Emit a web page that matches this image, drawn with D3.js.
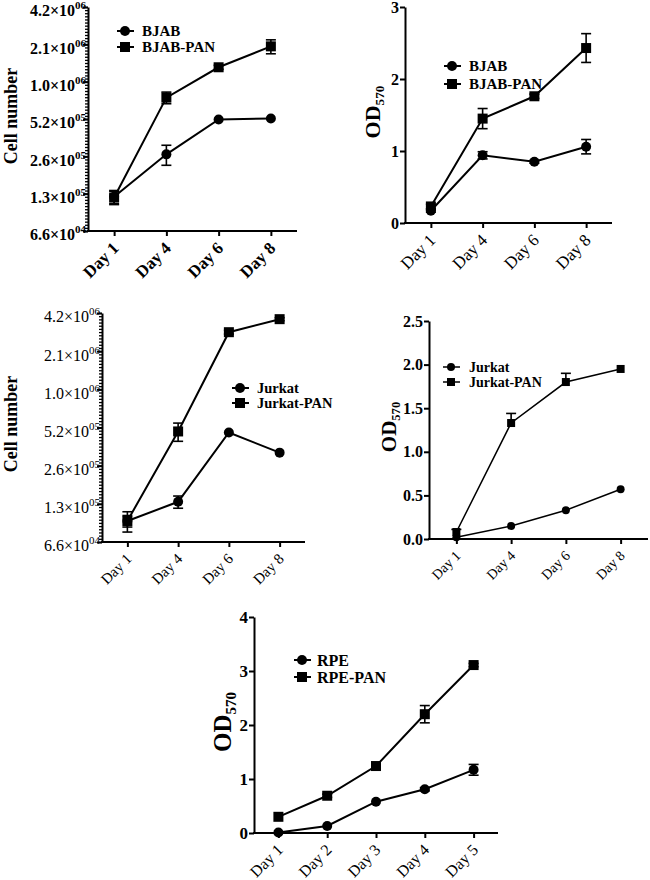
<!DOCTYPE html>
<html>
<head>
<meta charset="utf-8">
<script src="https://cdn.jsdelivr.net/npm/d3@7"></script>
<style>
  body { margin: 0; background: #fff; }
  svg { display: block; }
  text { font-family: 'Liberation Serif', 'Times New Roman', serif; fill: #000; }
</style>
</head>
<body>
<div id="chart"></div>
<script>
// categories
const days4 = ['Day 1', 'Day 4', 'Day 6', 'Day 8'];
const days5 = ['Day 1', 'Day 2', 'Day 3', 'Day 4', 'Day 5'];

// log2 axis ticks (2^16 .. 2^22) and their labels
const cellTicks = [65536, 131072, 262144, 524288, 1048576, 2097152, 4194304];
const cellMant  = ['6.6', '1.3', '2.6', '5.2', '1.0', '2.1', '4.2'];
const cellExp   = ['04', '05', '05', '05', '06', '06', '06'];
const odTicks3  = [0, 1, 2, 3];
const odTicks25 = [0, 0.5, 1, 1.5, 2, 2.5];
const odTicks4  = [0, 1, 2, 3, 4];

// BJAB
const bjabCell       = [124000, 272000, 520000, 530000];
const bjabCellErr    = [15000, 50000, 0, 0];
const bjabPanCell    = [122000, 780000, 1370000, 2020000];
const bjabPanCellErr = [15000, 84000, 50000, 260000];
const bjabOD         = [0.17, 0.94, 0.85, 1.06];
const bjabODErr      = [0.02, 0.05, 0.02, 0.10];
const bjabPanOD      = [0.23, 1.45, 1.76, 2.43];
const bjabPanODErr   = [0.03, 0.14, 0.03, 0.20];

// Jurkat
const jurkatCell       = [96000, 136000, 479000, 332000];
const jurkatCellErr    = [10000, 15000, 0, 0];
const jurkatPanCell    = [96000, 488000, 2960000, 3750000];
const jurkatPanCellErr = [17500, 80000, 100000, 100000];
const jurkatOD         = [0.02, 0.15, 0.33, 0.57];
const jurkatODErr      = [0, 0, 0, 0];
const jurkatPanOD      = [0.08, 1.33, 1.80, 1.95];
const jurkatPanODErr   = [0.03, 0.11, 0.10, 0];

// RPE
const rpeOD       = [0.01, 0.13, 0.58, 0.81, 1.17];
const rpeODErr    = [0, 0, 0, 0.03, 0.10];
const rpePanOD    = [0.30, 0.69, 1.24, 2.20, 3.11];
const rpePanODErr = [0, 0.03, 0.06, 0.16, 0.03];

const svg = d3.select('#chart').append('svg')
  .attr('width', 650).attr('height', 880);

function mkPanel(p) {
  const g = svg.append('g');
  const x = d3.scalePoint().domain(p.cats).range(p.xr).padding(0.5);
  const y = p.log
    ? d3.scaleLog().base(2).domain([cellTicks[0], cellTicks[cellTicks.length - 1]]).range(p.yr)
    : d3.scaleLinear().domain([p.ticks[0], p.ticks[p.ticks.length - 1]]).range(p.yr);
  const lw = p.lw || 2;

  // y axis
  const ya = g.append('g').attr('transform', `translate(${p.xr[0]},0)`);
  if (p.log) {
    // minor ticks, 12 per doubling
    const minor = [];
    const [l0, l1] = [Math.log2(cellTicks[0]), Math.log2(cellTicks[cellTicks.length - 1])];
    for (let k = l0 * 12; k <= l1 * 12; k++) minor.push(Math.pow(2, k / 12));
    ya.append('g').call(d3.axisLeft(y).tickValues(minor).tickSize(3).tickSizeOuter(0).tickFormat(''))
      .call(a => a.select('.domain').remove())
      .selectAll('line').attr('stroke-width', 1.3);
    ya.append('g').call(d3.axisLeft(y).tickValues(cellTicks).tickSize(5).tickSizeOuter(0).tickPadding(-3)
        .tickFormat((d, i) => cellMant[i] + '\u00d710'))
      .call(a => a.selectAll('text').each(function(d, i) {
        const t = d3.select(this)
          .attr('dy', '0.56em')
          .style('font-size', '16px')
          .style('font-weight', p.tickBold ? 'bold' : 'normal');
        t.append('tspan').attr('dy', '-0.64em').style('font-size', '11px').text(cellExp[i]);
      }));
  } else {
    ya.call(d3.axisLeft(y).tickValues(p.ticks).tickSize(5).tickSizeOuter(0).tickPadding(1)
        .tickFormat(d3.format(p.fmt)))
      .selectAll('text')
      .style('font-size', (p.tickFs || 16) + 'px')
      .style('font-weight', p.tickBold ? 'bold' : 'normal');
  }
  ya.selectAll('.domain, line').attr('stroke', '#000');
  ya.select('.domain').attr('stroke-width', 2);
  ya.selectAll('.tick line').filter(function() { return +d3.select(this).attr('x2') === -5; }).attr('stroke-width', 2);

  // x axis
  const xa = g.append('g').attr('transform', `translate(0,${p.yr[0]})`)
    .call(d3.axisBottom(x).tickSize(5).tickSizeOuter(0));
  xa.select('.domain').attr('d', `M${p.xr[0] - 1},0H${p.xr[1]}`).attr('stroke', '#000').attr('stroke-width', 2);
  xa.selectAll('.tick line').attr('stroke', '#000').attr('stroke-width', 2);
  xa.selectAll('.tick text')
    .attr('x', 0).attr('y', 0).attr('dy', '0.35em')
    .attr('text-anchor', 'end')
    .attr('transform', 'translate(1,14) rotate(-45)')
    .style('font-size', (p.xFs || 16) + 'px')
    .style('font-weight', p.xBold ? 'bold' : 'normal');

  // series
  const line = d3.line().x((d, i) => x(p.cats[i])).y(d => y(d));
  p.series.forEach(s => {
    g.append('path').datum(s.vals)
      .attr('fill', 'none').attr('stroke', '#000').attr('stroke-width', lw)
      .attr('d', line);
    const cw = 5;
    s.vals.forEach((v, i) => {
      const e = s.err[i];
      if (!e) return;
      const cx = x(p.cats[i]);
      const yt = y(v + e), yb = p.upOnly ? y(v) : y(v - e);
      const eg = g.append('g').attr('stroke', '#000').attr('stroke-width', 1.6);
      eg.append('line').attr('x1', cx).attr('x2', cx).attr('y1', yt).attr('y2', yb);
      eg.append('line').attr('x1', cx - cw).attr('x2', cx + cw).attr('y1', yt).attr('y2', yt);
      if (!p.upOnly) eg.append('line').attr('x1', cx - cw).attr('x2', cx + cw).attr('y1', yb).attr('y2', yb);
    });
  });
  p.series.forEach(s => {
    s.vals.forEach((v, i) => {
      const cx = x(p.cats[i]), cy = y(v);
      if (s.shape === 'circle') {
        g.append('circle').attr('cx', cx).attr('cy', cy).attr('r', p.ms / 2);
      } else {
        g.append('rect').attr('x', cx - p.ms / 2).attr('y', cy - p.ms / 2)
          .attr('width', p.ms).attr('height', p.ms);
      }
    });
  });

  // legend
  p.series.forEach((s, i) => {
    const ly = p.leg[1] + i * p.leg[3];
    const lx = p.leg[0];
    g.append('line').attr('x1', lx - 8).attr('x2', lx + 9).attr('y1', ly).attr('y2', ly)
      .attr('stroke', '#000').attr('stroke-width', lw);
    if (s.shape === 'circle') g.append('circle').attr('cx', lx).attr('cy', ly).attr('r', p.ms / 2);
    else g.append('rect').attr('x', lx - p.ms / 2).attr('y', ly - p.ms / 2).attr('width', p.ms).attr('height', p.ms);
    g.append('text').attr('x', p.leg[2]).attr('y', ly).attr('dy', '0.35em')
      .style('font-size', p.legFs + 'px').style('font-weight', 'bold')
      .text(s.name);
  });

  // y title
  const tt = g.append('text')
    .attr('transform', `translate(${p.title[0]},${p.title[1]}) rotate(-90)`)
    .attr('text-anchor', 'middle')
    .style('font-weight', 'bold')
    .style('font-size', p.title[2] + 'px');
  if (p.od) {
    tt.append('tspan').text('OD');
    tt.append('tspan').attr('dy', '0.3em').style('font-size', (p.title[2] * 0.6) + 'px').text('570');
  } else {
    tt.text('Cell number');
  }
}

mkPanel({
  cats: days4, log: true, xr: [88, 297], yr: [231, 7], tickBold: true, xBold: true, xFs: 17,
  ms: 10, lw: 2,
  series: [
    { name: 'BJAB', shape: 'circle', vals: bjabCell, err: bjabCellErr },
    { name: 'BJAB-PAN', shape: 'rect', vals: bjabPanCell, err: bjabPanCellErr }
  ],
  leg: [125, 31, 142, 16], legFs: 15,
  title: [17, 116, 18]
});

mkPanel({
  cats: days4, ticks: odTicks3, fmt: 'd', xr: [405, 612], yr: [223, 7], tickBold: true, xFs: 17,
  ms: 10, lw: 2,
  series: [
    { name: 'BJAB', shape: 'circle', vals: bjabOD, err: bjabODErr },
    { name: 'BJAB-PAN', shape: 'rect', vals: bjabPanOD, err: bjabPanODErr }
  ],
  leg: [452, 66, 469, 18], legFs: 15, od: true,
  title: [380, 112, 22]
});

mkPanel({
  cats: days4, log: true, xr: [102, 305], yr: [542, 313], tickBold: false, xFs: 15,
  ms: 10, lw: 2,
  series: [
    { name: 'Jurkat', shape: 'circle', vals: jurkatCell, err: jurkatCellErr },
    { name: 'Jurkat-PAN', shape: 'rect', vals: jurkatPanCell, err: jurkatPanCellErr }
  ],
  leg: [240, 388, 257, 15], legFs: 14.5,
  title: [17, 424, 18]
});

mkPanel({
  cats: days4, ticks: odTicks25, fmt: '.1f', xr: [429, 648], yr: [539, 321], tickBold: true, tickFs: 16,
  ms: 8, lw: 1.5, upOnly: true, xFs: 14,
  series: [
    { name: 'Jurkat', shape: 'circle', vals: jurkatOD, err: jurkatODErr },
    { name: 'Jurkat-PAN', shape: 'rect', vals: jurkatPanOD, err: jurkatPanODErr }
  ],
  leg: [451, 367, 469, 15], legFs: 14, od: true,
  title: [396, 427, 21]
});

mkPanel({
  cats: days5, ticks: odTicks4, fmt: 'd', xr: [254, 498], yr: [833, 617], tickBold: true, tickFs: 17,
  ms: 10, lw: 2, xFs: 16,
  series: [
    { name: 'RPE', shape: 'circle', vals: rpeOD, err: rpeODErr },
    { name: 'RPE-PAN', shape: 'rect', vals: rpePanOD, err: rpePanODErr }
  ],
  leg: [302, 660, 317, 17], legFs: 16, od: true,
  title: [231, 722, 25]
});
</script>
</body>
</html>
